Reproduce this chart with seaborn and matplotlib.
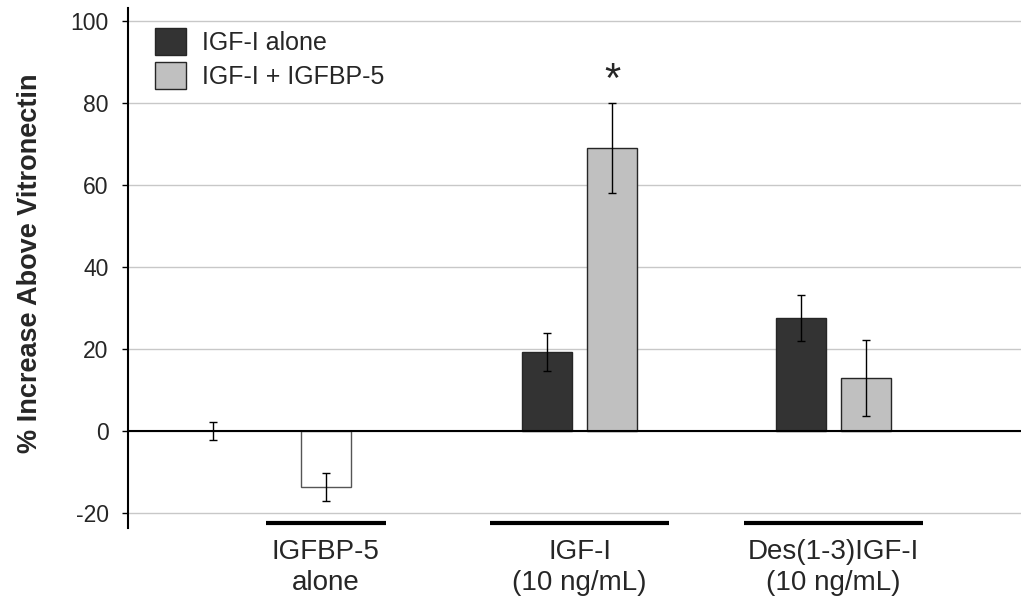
import numpy as np
import pandas as pd
import matplotlib
matplotlib.use('Agg')
import matplotlib.pyplot as plt
import matplotlib.transforms as mtransforms
import seaborn as sns

# --- data ---
conditions = ['IGFBP-5\nalone', 'IGF-I\n(10 ng/mL)', 'Des(1-3)IGF-I\n(10 ng/mL)']
treatments = ['IGF-I alone', 'IGF-I + IGFBP-5']
paired_conditions = conditions[1:]
igf_alone_mean = [19.3, 27.6]
igf_alone_err = [4.7, 5.6]
igf_bp5_mean = [69.1, 13.0]
igf_bp5_err = [10.9, 9.3]
bp5_alone_mean = [-13.5]
bp5_alone_err = [3.4]
vitronectin_mean = [0.0]
vitronectin_err = [2.2]
y_ticks = [-20, 0, 20, 40, 60, 80, 100]

# --- style ---
sns.set_style('white')
plt.rcParams['font.family'] = ['Liberation Sans', 'DejaVu Sans']
plt.rcParams['axes.unicode_minus'] = False

fig = plt.figure(figsize=(10.21, 6.03), dpi=100)
ax = fig.add_axes([128 / 1021, 1 - 528 / 603, 893 / 1021, 520 / 603])

df_pairs = pd.DataFrame({
    'condition': paired_conditions * 2,
    'treatment': [treatments[0]] * 2 + [treatments[1]] * 2,
    'value': igf_alone_mean + igf_bp5_mean,
    'err': igf_alone_err + igf_bp5_err,
})

sns.barplot(data=df_pairs, x='condition', y='value', hue='treatment',
            order=conditions, hue_order=treatments,
            palette=['#333333', '#c0c0c0'], width=0.512, gap=0.23,
            errorbar=None, edgecolor='#262626', linewidth=1, ax=ax)

df_single = pd.DataFrame({'condition': [conditions[0]], 'value': bp5_alone_mean})
sns.barplot(data=df_single, x='condition', y='value', order=conditions,
            color='white', width=0.197, errorbar=None,
            edgecolor='#555555', linewidth=1, ax=ax)

# error bars at the bar centres
for cont, errs in zip(ax.containers, [igf_alone_err, igf_bp5_err, bp5_alone_err]):
    xs = [p.get_x() + p.get_width() / 2 for p in cont.patches]
    ys = [p.get_y() + p.get_height() for p in cont.patches]
    ax.errorbar(xs, ys, yerr=errs, fmt='none', ecolor='black',
                elinewidth=1, capsize=3, capthick=1, zorder=4)

# vitronectin baseline (zero bar) left of the IGFBP-5 bar
white_bar = ax.containers[2].patches[0]
white_x = white_bar.get_x() + white_bar.get_width() / 2
ax.errorbar([white_x - 0.443], vitronectin_mean, yerr=vitronectin_err, fmt='none',
            ecolor='black', elinewidth=1, capsize=3, capthick=1, zorder=4)

ax.axhline(0, color='black', lw=1.5, zorder=3)

# significance marker
gray_bar = ax.containers[1].patches[0]
ax.text(gray_bar.get_x() + gray_bar.get_width() / 2, 85.5, '*',
        ha='center', va='center', fontsize=30)

# axes
ax.set_xlim(-0.778, 2.738)
ax.set_ylim(-23.6, 103.2)
ax.set_yticks(y_ticks)
ax.yaxis.grid(True, color='#c8c8c8', lw=1)
ax.set_axisbelow(True)
for s in ['top', 'right', 'bottom']:
    ax.spines[s].set_visible(False)
ax.spines['left'].set_color('black')
ax.spines['left'].set_linewidth(1.5)
ax.tick_params(axis='y', left=True, length=4, width=1, color='black',
               labelsize=16.5, pad=10)
ax.tick_params(axis='x', length=0, labelsize=20, pad=8)
for lbl in ax.get_xticklabels():
    lbl.set_linespacing(1.25)
ax.set_xlabel('')
ax.set_ylabel('% Increase Above Vitronectin', fontsize=19.5, fontweight='bold')
ax.yaxis.set_label_coords(-0.095, 0.51)

# black underlines below the category labels
trans = mtransforms.blended_transform_factory(ax.transData, ax.transAxes)
for i, half in enumerate([0.236, 0.354, 0.354]):
    ax.plot([i - half, i + half], [0.0096, 0.0096], transform=trans,
            color='black', lw=3, clip_on=False, solid_capstyle='butt')

handles, labels = ax.get_legend_handles_labels()
ax.legend(handles[:2], labels[:2], loc='upper left',
          bbox_to_anchor=(155 / 1021, 1 - 28 / 603), bbox_transform=fig.transFigure,
          frameon=False, fontsize=18, handlelength=1.25, handleheight=1.3,
          handletextpad=0.64, labelspacing=0.25, borderpad=0, borderaxespad=0)

fig.savefig('out.png', dpi=100)
